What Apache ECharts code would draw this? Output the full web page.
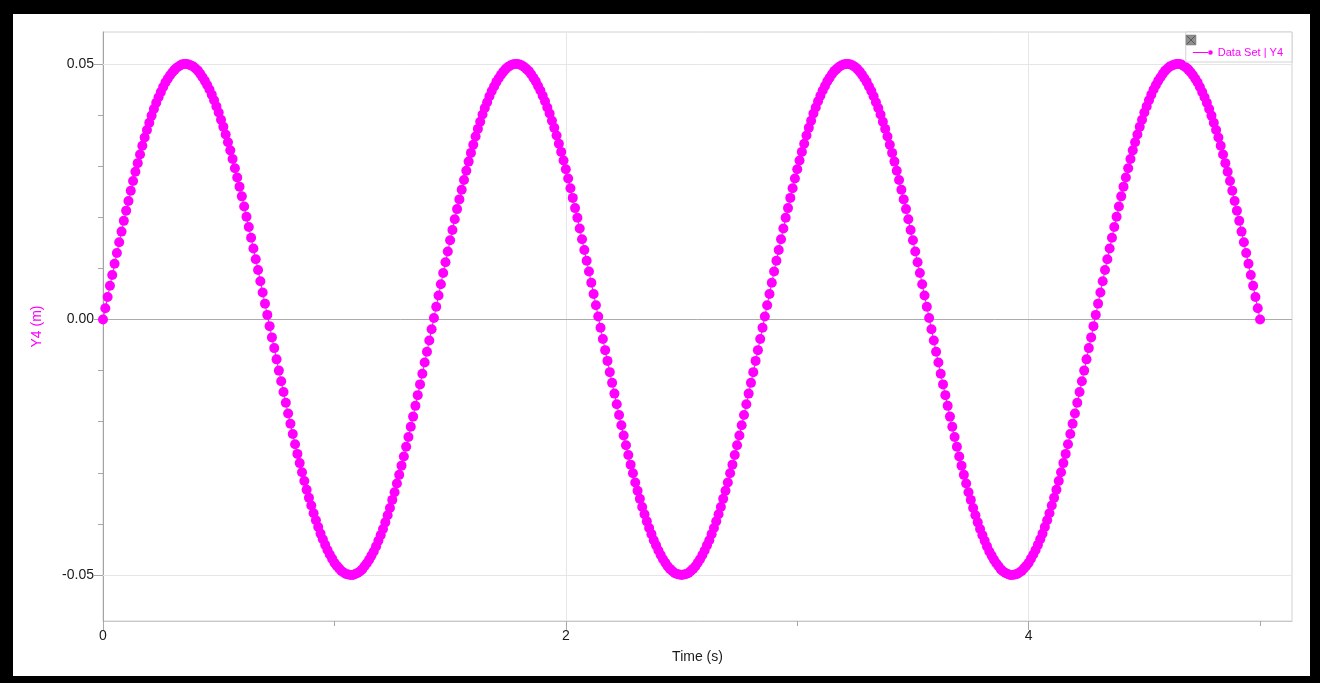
<!DOCTYPE html>
<html>
<head>
<meta charset="utf-8">
<script src="https://cdn.jsdelivr.net/npm/echarts@6/dist/echarts.min.js"></script>
<style>
html,body{margin:0;padding:0;background:#000;width:1320px;height:683px;overflow:hidden;}
#paper{position:absolute;left:13px;top:14px;width:1297px;height:662px;background:#fff;}
#chart{position:absolute;left:0;top:0;width:1320px;height:683px;}
</style>
</head>
<body>
<div id="paper"></div>
<div id="chart"></div>
<script>
// ---- data (Time in s, Y4 in m) ----
const TIME = [
0.00,0.01,0.02,0.03,0.04,0.05,0.06,0.07,0.08,0.09,
0.10,0.11,0.12,0.13,0.14,0.15,0.16,0.17,0.18,0.19,
0.20,0.21,0.22,0.23,0.24,0.25,0.26,0.27,0.28,0.29,
0.30,0.31,0.32,0.33,0.34,0.35,0.36,0.37,0.38,0.39,
0.40,0.41,0.42,0.43,0.44,0.45,0.46,0.47,0.48,0.49,
0.50,0.51,0.52,0.53,0.54,0.55,0.56,0.57,0.58,0.59,
0.60,0.61,0.62,0.63,0.64,0.65,0.66,0.67,0.68,0.69,
0.70,0.71,0.72,0.73,0.74,0.75,0.76,0.77,0.78,0.79,
0.80,0.81,0.82,0.83,0.84,0.85,0.86,0.87,0.88,0.89,
0.90,0.91,0.92,0.93,0.94,0.95,0.96,0.97,0.98,0.99,
1.00,1.01,1.02,1.03,1.04,1.05,1.06,1.07,1.08,1.09,
1.10,1.11,1.12,1.13,1.14,1.15,1.16,1.17,1.18,1.19,
1.20,1.21,1.22,1.23,1.24,1.25,1.26,1.27,1.28,1.29,
1.30,1.31,1.32,1.33,1.34,1.35,1.36,1.37,1.38,1.39,
1.40,1.41,1.42,1.43,1.44,1.45,1.46,1.47,1.48,1.49,
1.50,1.51,1.52,1.53,1.54,1.55,1.56,1.57,1.58,1.59,
1.60,1.61,1.62,1.63,1.64,1.65,1.66,1.67,1.68,1.69,
1.70,1.71,1.72,1.73,1.74,1.75,1.76,1.77,1.78,1.79,
1.80,1.81,1.82,1.83,1.84,1.85,1.86,1.87,1.88,1.89,
1.90,1.91,1.92,1.93,1.94,1.95,1.96,1.97,1.98,1.99,
2.00,2.01,2.02,2.03,2.04,2.05,2.06,2.07,2.08,2.09,
2.10,2.11,2.12,2.13,2.14,2.15,2.16,2.17,2.18,2.19,
2.20,2.21,2.22,2.23,2.24,2.25,2.26,2.27,2.28,2.29,
2.30,2.31,2.32,2.33,2.34,2.35,2.36,2.37,2.38,2.39,
2.40,2.41,2.42,2.43,2.44,2.45,2.46,2.47,2.48,2.49,
2.50,2.51,2.52,2.53,2.54,2.55,2.56,2.57,2.58,2.59,
2.60,2.61,2.62,2.63,2.64,2.65,2.66,2.67,2.68,2.69,
2.70,2.71,2.72,2.73,2.74,2.75,2.76,2.77,2.78,2.79,
2.80,2.81,2.82,2.83,2.84,2.85,2.86,2.87,2.88,2.89,
2.90,2.91,2.92,2.93,2.94,2.95,2.96,2.97,2.98,2.99,
3.00,3.01,3.02,3.03,3.04,3.05,3.06,3.07,3.08,3.09,
3.10,3.11,3.12,3.13,3.14,3.15,3.16,3.17,3.18,3.19,
3.20,3.21,3.22,3.23,3.24,3.25,3.26,3.27,3.28,3.29,
3.30,3.31,3.32,3.33,3.34,3.35,3.36,3.37,3.38,3.39,
3.40,3.41,3.42,3.43,3.44,3.45,3.46,3.47,3.48,3.49,
3.50,3.51,3.52,3.53,3.54,3.55,3.56,3.57,3.58,3.59,
3.60,3.61,3.62,3.63,3.64,3.65,3.66,3.67,3.68,3.69,
3.70,3.71,3.72,3.73,3.74,3.75,3.76,3.77,3.78,3.79,
3.80,3.81,3.82,3.83,3.84,3.85,3.86,3.87,3.88,3.89,
3.90,3.91,3.92,3.93,3.94,3.95,3.96,3.97,3.98,3.99,
4.00,4.01,4.02,4.03,4.04,4.05,4.06,4.07,4.08,4.09,
4.10,4.11,4.12,4.13,4.14,4.15,4.16,4.17,4.18,4.19,
4.20,4.21,4.22,4.23,4.24,4.25,4.26,4.27,4.28,4.29,
4.30,4.31,4.32,4.33,4.34,4.35,4.36,4.37,4.38,4.39,
4.40,4.41,4.42,4.43,4.44,4.45,4.46,4.47,4.48,4.49,
4.50,4.51,4.52,4.53,4.54,4.55,4.56,4.57,4.58,4.59,
4.60,4.61,4.62,4.63,4.64,4.65,4.66,4.67,4.68,4.69,
4.70,4.71,4.72,4.73,4.74,4.75,4.76,4.77,4.78,4.79,
4.80,4.81,4.82,4.83,4.84,4.85,4.86,4.87,4.88,4.89,
4.90,4.91,4.92,4.93,4.94,4.95,4.96,4.97,4.98,4.99,
5.00
];
const Y4 = [
0.0000,0.0022,0.0044,0.0066,0.0087,0.0109,0.0130,0.0151,0.0172,0.0193,
0.0213,0.0232,0.0252,0.0271,0.0289,0.0306,0.0323,0.0340,0.0356,0.0371,
0.0385,0.0399,0.0412,0.0424,0.0435,0.0445,0.0455,0.0464,0.0471,0.0478,
0.0484,0.0489,0.0493,0.0496,0.0499,0.0500,0.0500,0.0499,0.0497,0.0495,
0.0491,0.0487,0.0481,0.0474,0.0467,0.0459,0.0450,0.0440,0.0429,0.0417,
0.0405,0.0391,0.0377,0.0362,0.0347,0.0331,0.0314,0.0296,0.0278,0.0260,
0.0241,0.0221,0.0201,0.0181,0.0160,0.0139,0.0118,0.0097,0.0075,0.0053,
0.0031,0.0009,-0.0013,-0.0035,-0.0056,-0.0078,-0.0100,-0.0121,-0.0142,-0.0163,
-0.0184,-0.0204,-0.0224,-0.0244,-0.0263,-0.0281,-0.0299,-0.0316,-0.0333,-0.0349,
-0.0364,-0.0379,-0.0393,-0.0406,-0.0419,-0.0430,-0.0441,-0.0451,-0.0460,-0.0468,
-0.0476,-0.0482,-0.0487,-0.0492,-0.0495,-0.0498,-0.0499,-0.0500,-0.0500,-0.0498,
-0.0496,-0.0493,-0.0489,-0.0483,-0.0477,-0.0470,-0.0462,-0.0454,-0.0444,-0.0433,
-0.0422,-0.0410,-0.0397,-0.0383,-0.0369,-0.0353,-0.0338,-0.0321,-0.0304,-0.0286,
-0.0268,-0.0249,-0.0230,-0.0210,-0.0190,-0.0169,-0.0148,-0.0127,-0.0106,-0.0084,
-0.0063,-0.0041,-0.0019,0.0003,0.0025,0.0047,0.0069,0.0091,0.0112,0.0133,
0.0155,0.0175,0.0196,0.0216,0.0235,0.0254,0.0273,0.0291,0.0309,0.0326,
0.0342,0.0358,0.0373,0.0387,0.0401,0.0414,0.0425,0.0437,0.0447,0.0456,
0.0465,0.0472,0.0479,0.0485,0.0490,0.0494,0.0497,0.0499,0.0500,0.0500,
0.0499,0.0497,0.0494,0.0490,0.0486,0.0480,0.0473,0.0466,0.0457,0.0448,
0.0438,0.0427,0.0415,0.0403,0.0389,0.0375,0.0360,0.0344,0.0328,0.0311,
0.0294,0.0276,0.0257,0.0238,0.0218,0.0199,0.0178,0.0157,0.0136,0.0115,
0.0094,0.0072,0.0050,0.0028,0.0006,-0.0016,-0.0038,-0.0060,-0.0081,-0.0103,
-0.0124,-0.0145,-0.0166,-0.0187,-0.0207,-0.0227,-0.0246,-0.0265,-0.0284,-0.0301,
-0.0319,-0.0335,-0.0351,-0.0367,-0.0381,-0.0395,-0.0408,-0.0420,-0.0432,-0.0442,
-0.0452,-0.0461,-0.0469,-0.0476,-0.0483,-0.0488,-0.0492,-0.0496,-0.0498,-0.0499,
-0.0500,-0.0499,-0.0498,-0.0496,-0.0492,-0.0488,-0.0483,-0.0476,-0.0469,-0.0461,
-0.0452,-0.0442,-0.0432,-0.0420,-0.0408,-0.0395,-0.0381,-0.0367,-0.0351,-0.0335,
-0.0319,-0.0301,-0.0284,-0.0265,-0.0246,-0.0227,-0.0207,-0.0187,-0.0166,-0.0145,
-0.0124,-0.0103,-0.0081,-0.0060,-0.0038,-0.0016,0.0006,0.0028,0.0050,0.0072,
0.0094,0.0115,0.0136,0.0157,0.0178,0.0199,0.0218,0.0238,0.0257,0.0276,
0.0294,0.0311,0.0328,0.0344,0.0360,0.0375,0.0389,0.0403,0.0415,0.0427,
0.0438,0.0448,0.0457,0.0466,0.0473,0.0480,0.0486,0.0490,0.0494,0.0497,
0.0499,0.0500,0.0500,0.0499,0.0497,0.0494,0.0490,0.0485,0.0479,0.0472,
0.0465,0.0456,0.0447,0.0437,0.0425,0.0414,0.0401,0.0387,0.0373,0.0358,
0.0342,0.0326,0.0309,0.0291,0.0273,0.0254,0.0235,0.0216,0.0196,0.0175,
0.0155,0.0133,0.0112,0.0091,0.0069,0.0047,0.0025,0.0003,-0.0019,-0.0041,
-0.0063,-0.0084,-0.0106,-0.0127,-0.0148,-0.0169,-0.0190,-0.0210,-0.0230,-0.0249,
-0.0268,-0.0286,-0.0304,-0.0321,-0.0338,-0.0353,-0.0369,-0.0383,-0.0397,-0.0410,
-0.0422,-0.0433,-0.0444,-0.0454,-0.0462,-0.0470,-0.0477,-0.0483,-0.0489,-0.0493,
-0.0496,-0.0498,-0.0500,-0.0500,-0.0499,-0.0498,-0.0495,-0.0492,-0.0487,-0.0482,
-0.0476,-0.0468,-0.0460,-0.0451,-0.0441,-0.0430,-0.0419,-0.0406,-0.0393,-0.0379,
-0.0364,-0.0349,-0.0333,-0.0316,-0.0299,-0.0281,-0.0263,-0.0244,-0.0224,-0.0204,
-0.0184,-0.0163,-0.0142,-0.0121,-0.0100,-0.0078,-0.0056,-0.0035,-0.0013,0.0009,
0.0031,0.0053,0.0075,0.0097,0.0118,0.0139,0.0160,0.0181,0.0201,0.0221,
0.0241,0.0260,0.0278,0.0296,0.0314,0.0331,0.0347,0.0362,0.0377,0.0391,
0.0405,0.0417,0.0429,0.0440,0.0450,0.0459,0.0467,0.0474,0.0481,0.0487,
0.0491,0.0495,0.0497,0.0499,0.0500,0.0500,0.0499,0.0496,0.0493,0.0489,
0.0484,0.0478,0.0471,0.0464,0.0455,0.0445,0.0435,0.0424,0.0412,0.0399,
0.0385,0.0371,0.0356,0.0340,0.0323,0.0306,0.0289,0.0271,0.0252,0.0232,
0.0213,0.0193,0.0172,0.0151,0.0130,0.0109,0.0087,0.0066,0.0044,0.0022,
0.0000
];
const SERIES_NAME = 'Data Set | Y4';
const X_TITLE = 'Time (s)';
const Y_TITLE = 'Y4 (m)';
const X_MAJOR = [0, 2, 4];
const X_MINOR = [1, 3, 5];
const Y_MAJOR = [-0.05, 0, 0.05];
const Y_MINOR = [-0.04, -0.03, -0.02, -0.01, 0.01, 0.02, 0.03, 0.04];
const X_GRID = [2, 4];
const Y_GRID = [-0.05, 0.05];
const ZERO_LINE = [0];

const FONT = 'Liberation Sans, Arial, sans-serif';
const MAGENTA = '#ff00ff';
const XMIN = 0, XMAX = 5.138, YMIN = -0.0590, YMAX = 0.05626;

const points = TIME.map((t, i) => [t, Y4[i]]);

const markData = []
  .concat(Y_GRID.map(v => ({ yAxis: v })))
  .concat(X_GRID.map(v => ({ xAxis: v })))
  .concat(ZERO_LINE.map(v => ({ yAxis: v, lineStyle: { color: '#ababab', width: 1, type: 'solid' } })));

const chart = echarts.init(document.getElementById('chart'), null, { renderer: 'canvas' });
chart.setOption({
  animation: false,
  backgroundColor: 'transparent',
  textStyle: { fontFamily: FONT },
  grid: {
    left: 103, right: 28, top: 32, bottom: 62,
    show: true, borderColor: '#d2d2d2', borderWidth: 1, backgroundColor: 'transparent'
  },
  legend: {
    data: [{ name: SERIES_NAME, icon: 'path://M0,2.5L17,2.5L17,3.5L0,3.5Z M16.5,3A2.5,2.5 0 1,0 21.5,3A2.5,2.5 0 1,0 16.5,3Z' }],
    right: 28, top: 32,
    orient: 'horizontal',
    padding: [15, 9, 4, 7],
    itemWidth: 20, itemHeight: 6,
    backgroundColor: '#fff',
    borderColor: '#d2d2d2', borderWidth: 1,
    selectedMode: false,
    textStyle: { color: MAGENTA, fontSize: 11, fontFamily: FONT },
    itemStyle: { color: MAGENTA }
  },
  graphic: [
    { type: 'rect', z: 50, zlevel: 0, silent: true,
      shape: { x: 1186, y: 35, width: 10, height: 10 }, style: { fill: '#8e8e8e', stroke: '#777', lineWidth: 0.5 } },
    { type: 'line', z: 51, silent: true,
      shape: { x1: 1187, y1: 36, x2: 1195, y2: 44 }, style: { stroke: '#5a5a5a', lineWidth: 1 } },
    { type: 'line', z: 51, silent: true,
      shape: { x1: 1195, y1: 36, x2: 1187, y2: 44 }, style: { stroke: '#5a5a5a', lineWidth: 1 } }
  ],
  xAxis: [{
    type: 'value', min: XMIN, max: XMAX, position: 'bottom',
    axisLine: { show: true, onZero: false, lineStyle: { color: '#c8c8c8', width: 1 } },
    axisTick: { show: true, customValues: X_MINOR, length: 5, lineStyle: { color: '#a8a8a8' } },
    axisLabel: { show: false },
    splitLine: { show: false }
  }, {
    type: 'value', min: XMIN, max: XMAX, position: 'bottom',
    axisLine: { show: false, onZero: false },
    axisTick: { show: true, customValues: X_MAJOR, length: 9, lineStyle: { color: '#a8a8a8' } },
    axisLabel: { show: true, customValues: X_MAJOR, margin: 8, fontSize: 14, color: '#1a1a1a', fontFamily: FONT,
      formatter: v => String(v) },
    splitLine: { show: false },
    name: X_TITLE, nameLocation: 'middle', nameGap: 29,
    nameTextStyle: { fontSize: 14, color: '#1a1a1a', fontFamily: FONT }
  }],
  yAxis: [{
    type: 'value', min: YMIN, max: YMAX, position: 'left',
    axisLine: { show: true, onZero: false, lineStyle: { color: '#a4a4a4', width: 1 } },
    axisTick: { show: true, customValues: Y_MINOR, length: 5, lineStyle: { color: '#a8a8a8' } },
    axisLabel: { show: false },
    splitLine: { show: false }
  }, {
    type: 'value', min: YMIN, max: YMAX, position: 'left',
    axisLine: { show: false, onZero: false },
    axisTick: { show: true, customValues: Y_MAJOR, length: 9, lineStyle: { color: '#a8a8a8' } },
    axisLabel: { show: true, customValues: Y_MAJOR, margin: 9, fontSize: 14, color: '#1a1a1a', fontFamily: FONT,
      formatter: v => Number(v).toFixed(2) },
    splitLine: { show: false },
    name: Y_TITLE, nameLocation: 'middle', nameGap: 59,
    nameTextStyle: { fontSize: 14, color: MAGENTA, fontFamily: FONT }
  }],
  series: [{
    name: SERIES_NAME,
    type: 'line',
    xAxisIndex: 0, yAxisIndex: 0,
    data: points,
    symbol: 'circle',
    symbolSize: 10,
    showSymbol: true,
    showAllSymbol: true,
    clip: true,
    z: 3,
    itemStyle: { color: MAGENTA, borderWidth: 0 },
    lineStyle: { color: MAGENTA, width: 1 },
    emphasis: { disabled: true },
    markLine: {
      silent: true, z: 1, symbol: ['none', 'none'],
      label: { show: false },
      emphasis: { disabled: true },
      lineStyle: { color: '#e6e6e6', width: 1, type: 'solid' },
      data: markData
    }
  }]
});
</script>
</body>
</html>
